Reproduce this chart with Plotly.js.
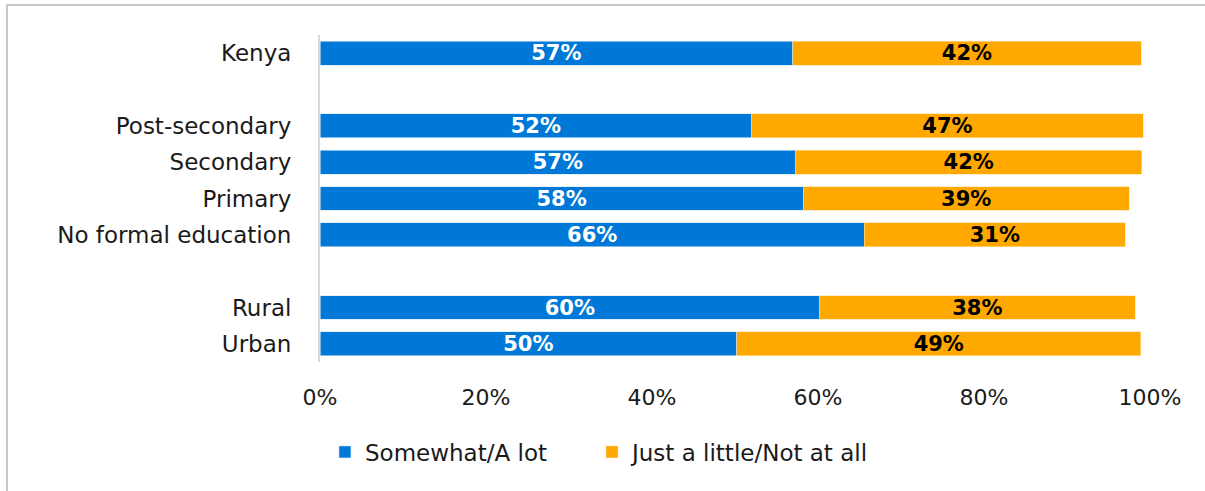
<!DOCTYPE html>
<html>
<head>
<meta charset="utf-8">
<script src="https://cdn.plot.ly/plotly-3.0.1.min.js"></script>
<style>
  html, body { margin: 0; padding: 0; background: #fff; overflow: hidden; }
  #chart { position: absolute; left: 0; top: 0; width: 1205px; height: 491px; }
  #frame { position: absolute; left: 6px; top: 4px; width: 1400px; height: 700px;
           border: 2px solid #c9c9c9; pointer-events: none; }
</style>
</head>
<body>
<div id="chart"></div>
<div id="frame"></div>
<script>
// Data
const categoryOrder = ['Kenya', ' ', 'Post-secondary', 'Secondary', 'Primary', 'No formal education', '  ', 'Rural', 'Urban'];
const groups = ['Kenya', 'Post-secondary', 'Secondary', 'Primary', 'No formal education', 'Rural', 'Urban'];
const somewhatALot = [56.95, 52.0, 57.3, 58.2, 65.6, 60.2, 50.2];
const justALittle = [42.0, 47.2, 41.7, 39.3, 31.4, 38.0, 48.7];
const seriesNames = ['Somewhat/A lot', 'Just a little/Not at all'];
const xTicks = [0, 20, 40, 60, 80, 100];
const xTickLabels = ['0%', '20%', '40%', '60%', '80%', '100%'];

const FONT = 'DejaVu Sans, sans-serif';

const traces = [
  {
    type: 'bar', orientation: 'h', name: seriesNames[0], legend: 'legend',
    y: groups, x: somewhatALot,
    marker: { color: '#0078d7', line: { color: '#d6e6f5', width: 0.6 } },
    texttemplate: '%{x:.0f}%', textposition: 'inside', insidetextanchor: 'middle',
    constraintext: 'none',
    textfont: { family: FONT, size: 21, color: '#ffffff', weight: 'bold' },
    hoverinfo: 'skip'
  },
  {
    type: 'bar', orientation: 'h', name: seriesNames[1], legend: 'legend2',
    y: groups, x: justALittle,
    marker: { color: '#ffa800', line: { color: '#ffe2a8', width: 0.6 } },
    texttemplate: '%{x:.0f}%', textposition: 'inside', insidetextanchor: 'middle',
    constraintext: 'none',
    textfont: { family: FONT, size: 21, color: '#000000', weight: 'bold' },
    hoverinfo: 'skip'
  }
];

const legendBase = {
  orientation: 'h', xanchor: 'left', y: -0.275, yanchor: 'middle',
  font: { family: FONT, size: 23, color: '#1a1a1a' },
  itemwidth: 30, bgcolor: 'rgba(0,0,0,0)'
};

const layout = {
  width: 1205, height: 491,
  margin: { l: 320, r: 55, t: 35, b: 129 },
  paper_bgcolor: '#ffffff', plot_bgcolor: '#ffffff',
  barmode: 'stack', bargap: 0.34,
  font: { family: FONT, size: 23, color: '#1a1a1a' },
  showlegend: true,
  legend: Object.assign({}, legendBase, { x: 0.006 }),
  legend2: Object.assign({}, legendBase, { x: 0.3277 }),
  xaxis: {
    range: [0, 100], tickmode: 'array', tickvals: xTicks, ticktext: xTickLabels,
    showgrid: false, zeroline: false, showline: false,
    ticks: 'outside', ticklen: 16, tickcolor: 'rgba(0,0,0,0)',
    tickfont: { family: FONT, size: 22, color: '#1a1a1a' },
    fixedrange: true
  },
  yaxis: {
    type: 'category', categoryorder: 'array', categoryarray: categoryOrder,
    range: [categoryOrder.length - 0.5, -0.5],
    showgrid: false, zeroline: false,
    showline: true, linecolor: '#d9d9d9', linewidth: 2,
    ticks: 'outside', ticklen: 22, tickcolor: 'rgba(0,0,0,0)',
    tickfont: { family: FONT, size: 23, color: '#1a1a1a' },
    fixedrange: true
  }
};

Plotly.newPlot('chart', traces, layout, { staticPlot: true, displayModeBar: false });
</script>
</body>
</html>
